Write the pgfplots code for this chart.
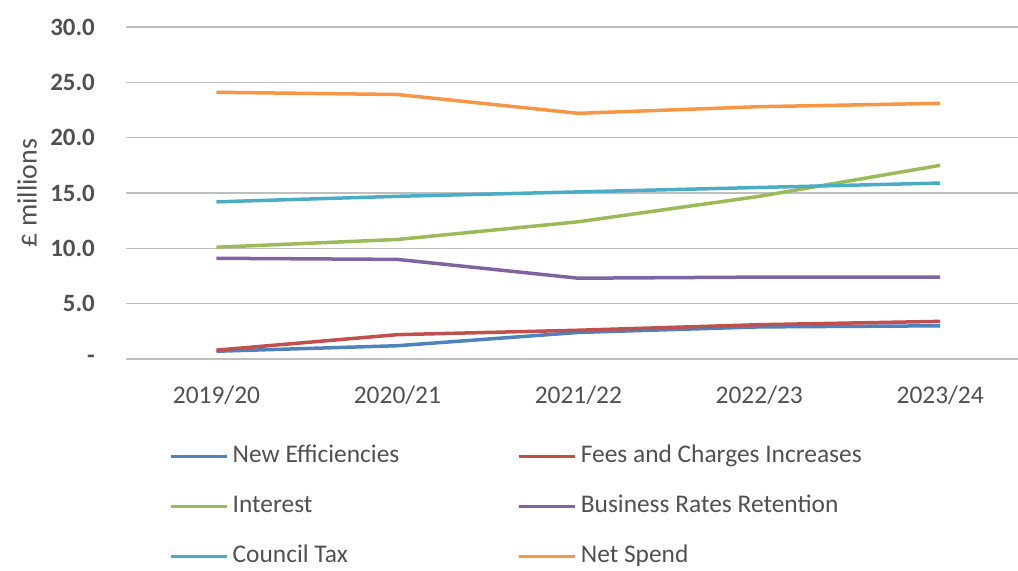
\documentclass[border=0pt]{standalone}
\usepackage{fontspec}
\setmainfont{Carlito}
\usepackage{pgfplots}
\pgfplotsset{compat=1.18}
\definecolor{cBlue}{HTML}{4F81BD}
\definecolor{cRed}{HTML}{C0504D}
\definecolor{cGreen}{HTML}{9BBB59}
\definecolor{cPurple}{HTML}{8064A2}
\definecolor{cAqua}{HTML}{4BACC6}
\definecolor{cOrange}{HTML}{F79646}
\definecolor{txt}{HTML}{505050}
\definecolor{grid}{HTML}{D9D9D9}
\begin{document}
\begin{tikzpicture}
\path[use as bounding box] (-126bp,-212bp) rectangle (892bp,359bp);
\begin{axis}[
  at={(0,0)}, anchor=south west,
  scale only axis, width=892bp, height=332bp,
  xmin=-0.5, xmax=4.43, ymin=0, ymax=30,
  axis line style={draw=none},
  major tick length=0pt,
  tick style={draw=none},
  xmajorgrids=false,
  ymajorgrids=true, major grid style={grid, line width=1.2bp},
  xtick={0,1,2,3,4},
  xticklabels={2019/20,2020/21,2021/22,2022/23,2023/24},
  ytick={0,5,10,15,20,25,30},
  yticklabels={-\hspace{10bp},5.0,10.0,15.0,20.0,25.0,30.0},
  every tick label/.append style={inner sep=0pt, text=txt},
  xticklabel style={font=\fontsize{25.5}{29}\selectfont, anchor=north, yshift=-27bp},
  yticklabel style={font=\fontsize{25}{29}\selectfont\bfseries, anchor=east, xshift=-31bp},
  ylabel={£ millions},
  ylabel style={at={(axis description cs:-0.111,0.5)}, anchor=center, rotate=0, font=\fontsize{28}{32}\selectfont, text=txt},
  legend columns=2,
  legend cell align=left,
  legend image code/.code={\draw[#1] (0bp,0bp) -- (56bp,0bp);},
  legend style={at={(axis description cs:0.0482,-0.257)}, anchor=north west, draw=none, fill=none,
    inner sep=0pt, font=\fontsize{25.5}{29}\selectfont,
    nodes={inner sep=0pt, text height=18bp, text depth=6bp, text=txt},
    column sep=4bp, row sep=26bp,
    /tikz/every even column/.append style={column sep=118bp}},
  every axis plot/.append style={line width=3.5bp},
]
\addplot[cBlue] coordinates {(0,0.7) (1,1.2) (2,2.4) (3,2.9) (4,3.0)};
\addlegendentry{New Efficiencies}
\addplot[cRed] coordinates {(0,0.8) (1,2.2) (2,2.6) (3,3.1) (4,3.4)};
\addlegendentry{Fees and Charges Increases}
\addplot[cGreen] coordinates {(0,10.1) (1,10.8) (2,12.4) (3,14.7) (4,17.5)};
\addlegendentry{Interest}
\addplot[cPurple] coordinates {(0,9.1) (1,9.0) (2,7.3) (3,7.4) (4,7.4)};
\addlegendentry{Business Rates Retention}
\addplot[cAqua] coordinates {(0,14.2) (1,14.7) (2,15.1) (3,15.5) (4,15.9)};
\addlegendentry{Council Tax}
\addplot[cOrange] coordinates {(0,24.1) (1,23.9) (2,22.2) (3,22.8) (4,23.1)};
\addlegendentry{Net Spend}
\end{axis}
\end{tikzpicture}
\end{document}
